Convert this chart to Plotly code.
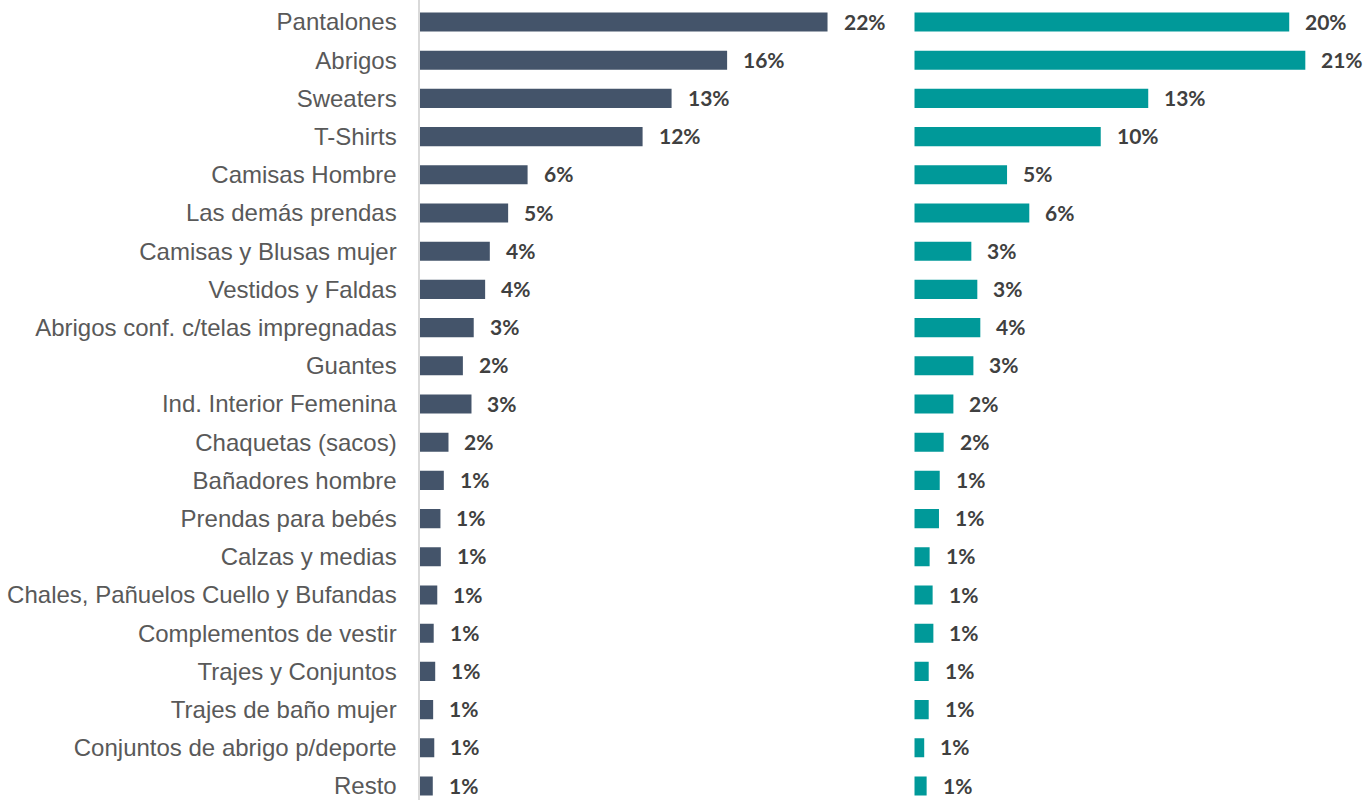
import plotly.graph_objects as go

categories = [
    "Pantalones", "Abrigos", "Sweaters", "T-Shirts", "Camisas Hombre",
    "Las demás prendas", "Camisas y Blusas mujer", "Vestidos y Faldas",
    "Abrigos conf. c/telas impregnadas", "Guantes", "Ind. Interior Femenina",
    "Chaquetas (sacos)", "Bañadores hombre", "Prendas para bebés",
    "Calzas y medias", "Chales, Pañuelos Cuello y Bufandas",
    "Complementos de vestir", "Trajes y Conjuntos", "Trajes de baño mujer",
    "Conjuntos de abrigo p/deporte", "Resto",
]

# share (%) — left panel
left_values = [21.82, 16.45, 13.48, 11.93, 5.78, 4.74, 3.76, 3.51, 2.90, 2.32,
               2.78, 1.55, 1.30, 1.12, 1.14, 0.95, 0.76, 0.84, 0.73, 0.79, 0.71]
# share (%) — right panel
right_values = [20.05, 20.91, 12.51, 9.97, 4.96, 6.15, 3.05, 3.37, 3.53, 3.16,
                2.09, 1.57, 1.36, 1.32, 0.82, 0.98, 1.02, 0.77, 0.77, 0.53, 0.66]

LEFT_COLOR = "#44546A"
RIGHT_COLOR = "#009999"
LABEL_COLOR = "#404040"
CAT_COLOR = "#595959"

W, H = 1363, 800
fig = go.Figure()

fig.add_trace(go.Bar(
    x=left_values, y=categories, orientation="h",
    marker=dict(color=LEFT_COLOR, line=dict(width=0)),
    xaxis="x", yaxis="y", hoverinfo="x+y",
))
fig.add_trace(go.Bar(
    x=right_values, y=categories, orientation="h",
    marker=dict(color=RIGHT_COLOR, line=dict(width=0)),
    xaxis="x2", yaxis="y2", hoverinfo="x+y",
))

label_font = dict(family="Lato", size=21, color=LABEL_COLOR, weight="bold")
annotations = []
for cat, v in zip(categories, left_values):
    annotations.append(dict(
        x=v, y=cat, xref="x", yref="y", text=f"{round(v)}%",
        showarrow=False, xanchor="left", yanchor="middle", xshift=14, yshift=1,
        font=label_font,
    ))
for cat, v in zip(categories, right_values):
    annotations.append(dict(
        x=v, y=cat, xref="x2", yref="y2", text=f"{round(v)}%",
        showarrow=False, xanchor="left", yanchor="middle", xshift=14, yshift=1,
        font=label_font,
    ))

px_per_unit = 18.7
left_start = 419.5
left_end = 900.0
right_start = 914.3
right_end = float(W)

row_px = 38.2
first_center = 22.0
y_top = -first_center / row_px
y_bottom = y_top + H / row_px

cat_axis = dict(
    categoryorder="array", categoryarray=categories,
    range=[y_bottom, y_top], showgrid=False, zeroline=False, ticks="",
)

fig.update_layout(
    width=W, height=H,
    margin=dict(l=0, r=0, t=0, b=0),
    paper_bgcolor="white", plot_bgcolor="white",
    showlegend=False, bargap=0.5,
    font=dict(family="Liberation Sans, Arial, sans-serif"),
    xaxis=dict(domain=[left_start / W, left_end / W],
               range=[0, (left_end - left_start) / px_per_unit],
               visible=False, anchor="y"),
    xaxis2=dict(domain=[right_start / W, right_end / W],
                range=[0, (right_end - right_start) / px_per_unit],
                visible=False, anchor="y2"),
    yaxis=dict(**cat_axis, anchor="x", showline=True, linecolor="#D9D9D9",
               linewidth=2, automargin=False, ticklabelstandoff=16,
               tickfont=dict(family="Liberation Sans, Arial", size=24, color=CAT_COLOR)),
    yaxis2=dict(**cat_axis, anchor="x2", showline=False, showticklabels=False),
    annotations=annotations,
)

fig.write_html(
    "out.html",
    config={"displayModeBar": False},
    post_script="document.body.style.margin='0';document.body.style.overflow='hidden';",
)
